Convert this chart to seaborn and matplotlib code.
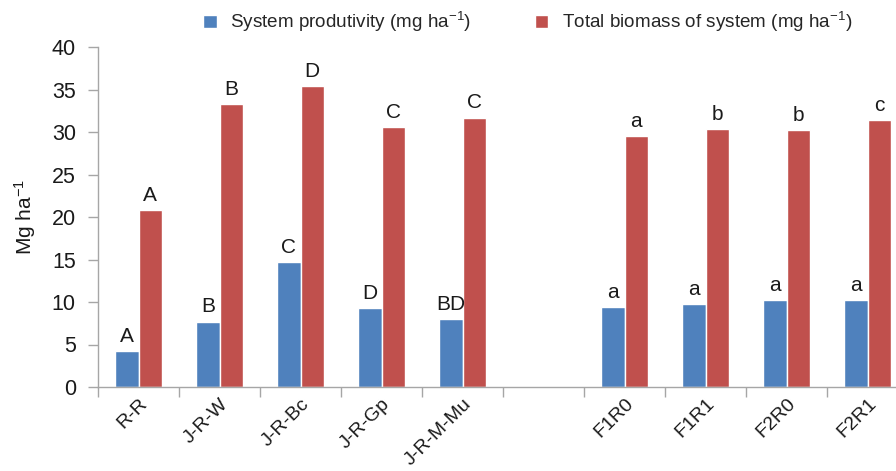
import matplotlib
matplotlib.use('Agg')
import matplotlib.pyplot as plt
import seaborn as sns
import numpy as np
import pandas as pd

# categories (blank slot separates the two experiment groups)
systems = ['R-R', 'J-R-W', 'J-R-Bc', 'J-R-Gp', 'J-R-M-Mu', ' ', 'F1R0', 'F1R1', 'F2R0', 'F2R1']
productivity = [4.2, 7.7, 14.7, 9.3, 8.0, np.nan, 9.45, 9.8, 10.2, 10.2]
biomass = [20.8, 33.3, 35.4, 30.6, 31.7, np.nan, 29.5, 30.4, 30.2, 31.4]
prod_letters = ['A', 'B', 'C', 'D', 'BD', '', 'a', 'a', 'a', 'a']
bio_letters = ['A', 'B', 'D', 'C', 'C', '', 'a', 'b', 'b', 'c']

s_prod = 'System produtivity (mg ha$^{-1}$)'
s_bio = 'Total biomass of system (mg ha$^{-1}$)'

df = pd.DataFrame({
    'system': systems * 2,
    'value': productivity + biomass,
    'series': [s_prod] * len(systems) + [s_bio] * len(systems),
})

sns.set_style('white')
plt.rcParams['font.family'] = ['Liberation Sans', 'DejaVu Sans']
plt.rcParams['mathtext.default'] = 'regular'

fig = plt.figure(figsize=(8.96, 4.71), dpi=100)
ax = fig.add_axes([98 / 896, 84 / 471, 810 / 896, 340 / 471])

sns.barplot(data=df, x='system', y='value', hue='series', order=systems,
            palette=['#4F81BD', '#C0504D'], width=0.57, gap=0, ax=ax,
            saturation=1, errorbar=None, legend=True)

# letters above bars (match patch to its category by position, blank slot has no bars)
for cont, letters in zip(ax.containers, [prod_letters, bio_letters]):
    for patch in cont.patches:
        h = patch.get_height()
        if np.isnan(h):
            continue
        xc = patch.get_x() + patch.get_width() / 2
        lab = letters[int(round(xc))]
        ax.text(xc, h + 0.6, lab, ha='center', va='bottom', fontsize=15, color='#1a1a1a')

ax.set_xlim(-0.5, len(systems) - 0.5)
ax.set_ylim(0, 40)
ax.set_yticks(range(0, 41, 5))
ax.set_xlabel('')
ax.set_ylabel('Mg ha$^{-1}$', fontsize=15, color='#1a1a1a', labelpad=10)

ax.set_xticks(range(len(systems)))
ax.set_xticklabels(systems, rotation=45, ha='right', rotation_mode='anchor')
ax.set_xticks(np.arange(-0.5, len(systems), 1), minor=True)
ax.tick_params(axis='x', which='major', length=0, labelsize=14, pad=6, colors='#1a1a1a')
ax.tick_params(axis='x', which='minor', length=7, width=1, color='#a6a6a6', direction='out', bottom=True)
ax.tick_params(axis='y', length=7, width=1, color='#a6a6a6', direction='out', left=True,
               labelsize=15.5, labelcolor='#1a1a1a', pad=9)

for sp in ['top', 'right']:
    ax.spines[sp].set_visible(False)
for sp in ['left', 'bottom']:
    ax.spines[sp].set_color('#a6a6a6')
    ax.spines[sp].set_linewidth(1)

handles, labels = ax.get_legend_handles_labels()
ax.get_legend().remove()
fig.legend(handles, labels, loc='center', bbox_to_anchor=(0.589, 0.953), ncol=2,
           frameon=False, fontsize=13.6, handlelength=0.7, handleheight=0.7,
           handletextpad=0.7, columnspacing=3.4)

fig.savefig('out.png', dpi=100)
